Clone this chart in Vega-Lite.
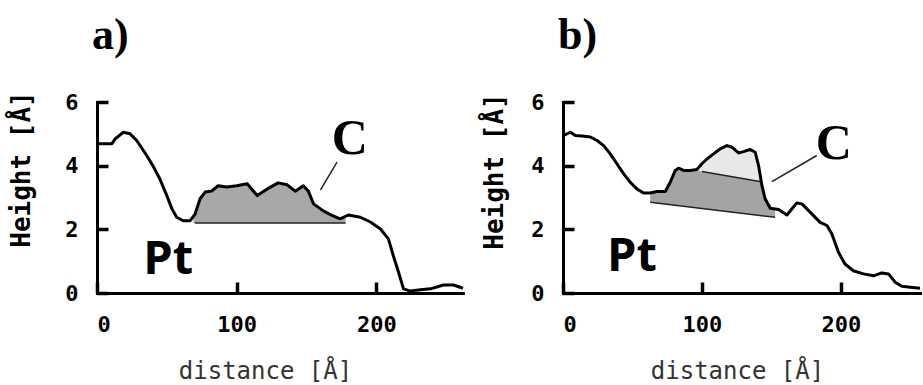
{
  "$schema": "https://vega.github.io/schema/vega-lite/v6.json",
  "background": "white",
  "padding": {"left": 8, "top": 13, "right": 0, "bottom": 0},
  "spacing": 16,
  "config": {
    "view": {"stroke": null},
    "axis": {
      "domainColor": "black", "domainWidth": 3, "domainCap": "square",
      "ticks": true, "tickColor": "black", "tickWidth": 3.5, "tickSize": -11,
      "grid": false,
      "labelFont": "DejaVu Sans Mono", "labelFontWeight": "bold", "labelFontSize": 22, "labelColor": "black"
    },
    "title": {"font": "Liberation Serif", "fontWeight": "bold", "fontSize": 44, "color": "black", "anchor": "start", "frame": "group", "baseline": "alphabetic", "offset": 33, "dx": -5}
  },
  "datasets": {
    "curveA": [
      {"x": 0, "y": 4.69}, {"x": 10.7, "y": 4.69}, {"x": 13, "y": 4.84}, {"x": 18.9, "y": 5.05}, {"x": 23.7, "y": 5.0},
      {"x": 28.4, "y": 4.79}, {"x": 35.6, "y": 4.32}, {"x": 40, "y": 4.0}, {"x": 45, "y": 3.58}, {"x": 50, "y": 3.06},
      {"x": 53.6, "y": 2.65}, {"x": 57, "y": 2.38}, {"x": 61.7, "y": 2.27}, {"x": 66.7, "y": 2.27}, {"x": 70.2, "y": 2.48},
      {"x": 73.8, "y": 2.96}, {"x": 77.4, "y": 3.17}, {"x": 82, "y": 3.2}, {"x": 86.7, "y": 3.37}, {"x": 93, "y": 3.33},
      {"x": 100, "y": 3.37}, {"x": 107.5, "y": 3.43}, {"x": 114.7, "y": 3.06}, {"x": 121.9, "y": 3.27}, {"x": 129.7, "y": 3.46},
      {"x": 136, "y": 3.4}, {"x": 141.9, "y": 3.2}, {"x": 147.7, "y": 3.37}, {"x": 151.3, "y": 3.2}, {"x": 155, "y": 2.8},
      {"x": 162, "y": 2.58}, {"x": 169, "y": 2.42}, {"x": 174, "y": 2.33}, {"x": 180, "y": 2.45}, {"x": 188.5, "y": 2.38},
      {"x": 195.7, "y": 2.23}, {"x": 202.9, "y": 2.01}, {"x": 208.6, "y": 1.7}, {"x": 212.2, "y": 1.16}, {"x": 215.8, "y": 0.66},
      {"x": 219.4, "y": 0.13}, {"x": 224.4, "y": 0.06}, {"x": 231.5, "y": 0.1}, {"x": 238.7, "y": 0.13}, {"x": 248, "y": 0.25},
      {"x": 255.2, "y": 0.25}, {"x": 262, "y": 0.15}
    ],
    "areaA": [
      {"x": 69, "top": 2.4, "bottom": 2.2}, {"x": 70.2, "top": 2.48, "bottom": 2.2}, {"x": 73.8, "top": 2.96, "bottom": 2.2},
      {"x": 77.4, "top": 3.17, "bottom": 2.2}, {"x": 82, "top": 3.2, "bottom": 2.2}, {"x": 86.7, "top": 3.37, "bottom": 2.2},
      {"x": 93, "top": 3.33, "bottom": 2.2}, {"x": 100, "top": 3.37, "bottom": 2.2}, {"x": 107.5, "top": 3.43, "bottom": 2.2},
      {"x": 114.7, "top": 3.06, "bottom": 2.2}, {"x": 121.9, "top": 3.27, "bottom": 2.2}, {"x": 129.7, "top": 3.46, "bottom": 2.2},
      {"x": 136, "top": 3.4, "bottom": 2.2}, {"x": 141.9, "top": 3.2, "bottom": 2.2}, {"x": 147.7, "top": 3.37, "bottom": 2.2},
      {"x": 151.3, "top": 3.2, "bottom": 2.2}, {"x": 155, "top": 2.8, "bottom": 2.2}, {"x": 162, "top": 2.58, "bottom": 2.2},
      {"x": 169, "top": 2.42, "bottom": 2.2}, {"x": 174, "top": 2.33, "bottom": 2.2}, {"x": 178, "top": 2.4, "bottom": 2.2}
    ],
    "rulesA": [
      {"x": 70, "y": 2.2, "x2": 178, "y2": 2.2},
      {"x": 171.8, "y": 4.11, "x2": 160, "y2": 3.24}
    ],
    "textA": [
      {"x": 51, "y": 0.6, "label": "Pt"},
      {"x": 181, "y": 4.37, "label": "C"}
    ],
    "curveB": [
      {"x": 0, "y": 4.9}, {"x": 0.5, "y": 4.95}, {"x": 5.3, "y": 5.05}, {"x": 8.9, "y": 4.95}, {"x": 13.7, "y": 4.93},
      {"x": 19.7, "y": 4.9}, {"x": 24.5, "y": 4.79}, {"x": 29.3, "y": 4.63}, {"x": 34, "y": 4.37}, {"x": 38.8, "y": 4.06},
      {"x": 43.7, "y": 3.74}, {"x": 48.4, "y": 3.48}, {"x": 53.2, "y": 3.27}, {"x": 58, "y": 3.14}, {"x": 62.8, "y": 3.14},
      {"x": 67.6, "y": 3.19}, {"x": 73.6, "y": 3.19}, {"x": 77.2, "y": 3.48}, {"x": 80.8, "y": 3.85}, {"x": 83.2, "y": 3.92},
      {"x": 86.8, "y": 3.85}, {"x": 91.6, "y": 3.85}, {"x": 96.4, "y": 3.88}, {"x": 100, "y": 4.06}, {"x": 103.6, "y": 4.21},
      {"x": 108.4, "y": 4.37}, {"x": 113.2, "y": 4.53}, {"x": 118, "y": 4.63}, {"x": 121.6, "y": 4.58}, {"x": 126.4, "y": 4.4},
      {"x": 130, "y": 4.44}, {"x": 134.8, "y": 4.51}, {"x": 138.4, "y": 4.42}, {"x": 140.8, "y": 4.0}, {"x": 143.2, "y": 3.38},
      {"x": 145.5, "y": 2.96}, {"x": 149.2, "y": 2.66}, {"x": 155.2, "y": 2.62}, {"x": 161.2, "y": 2.45}, {"x": 164.7, "y": 2.64},
      {"x": 168.3, "y": 2.83}, {"x": 172, "y": 2.8}, {"x": 177.9, "y": 2.54}, {"x": 185.1, "y": 2.22}, {"x": 190, "y": 2.12},
      {"x": 193.5, "y": 1.86}, {"x": 198.3, "y": 1.28}, {"x": 203, "y": 0.91}, {"x": 209, "y": 0.7}, {"x": 216.3, "y": 0.6},
      {"x": 223.5, "y": 0.54}, {"x": 229.5, "y": 0.63}, {"x": 234.3, "y": 0.6}, {"x": 239.1, "y": 0.34}, {"x": 244, "y": 0.21},
      {"x": 250, "y": 0.18}, {"x": 257, "y": 0.15}
    ],
    "areaBdark": [
      {"x": 62.8, "top": 3.14, "bottom": 2.85}, {"x": 67.6, "top": 3.19, "bottom": 2.825}, {"x": 73.6, "top": 3.19, "bottom": 2.79},
      {"x": 77.2, "top": 3.48, "bottom": 2.775}, {"x": 80.8, "top": 3.85, "bottom": 2.756}, {"x": 83.2, "top": 3.92, "bottom": 2.744},
      {"x": 86.8, "top": 3.85, "bottom": 2.725}, {"x": 91.6, "top": 3.85, "bottom": 2.7}, {"x": 96.4, "top": 3.84, "bottom": 2.675},
      {"x": 100, "top": 3.815, "bottom": 2.656}, {"x": 106, "top": 3.77, "bottom": 2.625}, {"x": 115, "top": 3.7, "bottom": 2.578},
      {"x": 125, "top": 3.63, "bottom": 2.526}, {"x": 135, "top": 3.55, "bottom": 2.474}, {"x": 142.7, "top": 3.495, "bottom": 2.434},
      {"x": 143.2, "top": 3.38, "bottom": 2.432}, {"x": 145.5, "top": 2.96, "bottom": 2.42}, {"x": 149.2, "top": 2.66, "bottom": 2.4},
      {"x": 152.7, "top": 2.63, "bottom": 2.38}
    ],
    "areaBlight": [
      {"x": 96.8, "top": 3.84, "bottom": 3.84}, {"x": 100, "top": 4.06, "bottom": 3.815}, {"x": 103.6, "top": 4.21, "bottom": 3.79},
      {"x": 108.4, "top": 4.37, "bottom": 3.752}, {"x": 113.2, "top": 4.53, "bottom": 3.716}, {"x": 118, "top": 4.63, "bottom": 3.68},
      {"x": 121.6, "top": 4.58, "bottom": 3.653}, {"x": 126.4, "top": 4.4, "bottom": 3.617}, {"x": 130, "top": 4.44, "bottom": 3.59},
      {"x": 134.8, "top": 4.51, "bottom": 3.554}, {"x": 138.4, "top": 4.42, "bottom": 3.527}, {"x": 140.8, "top": 4.0, "bottom": 3.509},
      {"x": 142.7, "top": 3.495, "bottom": 3.495}
    ],
    "rulesB": [
      {"x": 62.8, "y": 2.85, "x2": 152.7, "y2": 2.38},
      {"x": 100, "y": 3.815, "x2": 142.7, "y2": 3.495},
      {"x": 182.7, "y": 4.32, "x2": 150.4, "y2": 3.5}
    ],
    "textB": [
      {"x": 49.6, "y": 0.69, "label": "Pt"},
      {"x": 195, "y": 4.21, "label": "C"}
    ]
  },
  "hconcat": [
    {
      "title": {"text": "a)"},
      "width": 366,
      "height": 191,
      "encoding": {
        "x": {"field": "x", "type": "quantitative",
          "scale": {"domain": [0, 262], "nice": false, "zero": false},
          "axis": {"values": [0, 100, 200], "labelPadding": 32, "title": "distance [Å]",
            "titleFont": "DejaVu Sans Mono", "titleFontWeight": "normal", "titleFontSize": 24, "titleColor": "#333333",
            "titleX": 168, "titleY": 85, "titleBaseline": "alphabetic"}},
        "y": {"field": "y", "type": "quantitative",
          "scale": {"domain": [0, 6], "nice": false},
          "axis": {"values": [0, 2, 4, 6], "labelPadding": 30, "title": "Height [Å]",
            "titleFont": "DejaVu Sans Mono", "titleFontWeight": "bold", "titleFontSize": 26, "titleColor": "black",
            "titleX": -63, "titleY": 67}}
      },
      "layer": [
        {"data": {"name": "areaA"}, "mark": {"type": "area", "color": "#a8a8a8"},
         "encoding": {"y": {"field": "top", "type": "quantitative"}, "y2": {"field": "bottom"}}},
        {"data": {"name": "rulesA"}, "mark": {"type": "rule", "color": "#222222", "strokeWidth": 1.5},
         "encoding": {"x2": {"field": "x2"}, "y2": {"field": "y2"}}},
        {"data": {"name": "curveA"}, "mark": {"type": "line", "color": "black", "strokeWidth": 3, "strokeJoin": "round"}},
        {"data": {"name": "textA"}, "transform": [{"filter": "datum.label == 'Pt'"}],
         "mark": {"type": "text", "font": "Open Sans", "fontWeight": "bold", "fontSize": 47, "align": "center", "baseline": "alphabetic", "color": "black"},
         "encoding": {"text": {"field": "label"}}},
        {"data": {"name": "textA"}, "transform": [{"filter": "datum.label == 'C'"}],
         "mark": {"type": "text", "font": "Liberation Serif", "fontWeight": "bold", "fontSize": 50, "align": "center", "baseline": "alphabetic", "color": "black"},
         "encoding": {"text": {"field": "label"}}}
      ]
    },
    {
      "title": {"text": "b)"},
      "width": 357,
      "height": 191,
      "encoding": {
        "x": {"field": "x", "type": "quantitative",
          "scale": {"domain": [0, 257], "nice": false, "zero": false},
          "axis": {"values": [0, 100, 200], "labelPadding": 32, "title": "distance [Å]",
            "titleFont": "DejaVu Sans Mono", "titleFontWeight": "normal", "titleFontSize": 24, "titleColor": "#333333",
            "titleX": 174, "titleY": 85, "titleBaseline": "alphabetic"}},
        "y": {"field": "y", "type": "quantitative",
          "scale": {"domain": [0, 6], "nice": false},
          "axis": {"values": [0, 2, 4, 6], "labelPadding": 30, "title": "Height [Å]",
            "titleFont": "DejaVu Sans Mono", "titleFontWeight": "bold", "titleFontSize": 26, "titleColor": "black",
            "titleX": -56, "titleY": 69}}
      },
      "layer": [
        {"data": {"name": "areaBdark"}, "mark": {"type": "area", "color": "#a4a4a4"},
         "encoding": {"y": {"field": "top", "type": "quantitative"}, "y2": {"field": "bottom"}}},
        {"data": {"name": "areaBlight"}, "mark": {"type": "area", "color": "#e8e8e8"},
         "encoding": {"y": {"field": "top", "type": "quantitative"}, "y2": {"field": "bottom"}}},
        {"data": {"name": "rulesB"}, "mark": {"type": "rule", "color": "#222222", "strokeWidth": 1.5},
         "encoding": {"x2": {"field": "x2"}, "y2": {"field": "y2"}}},
        {"data": {"name": "curveB"}, "mark": {"type": "line", "color": "black", "strokeWidth": 3, "strokeJoin": "round"}},
        {"data": {"name": "textB"}, "transform": [{"filter": "datum.label == 'Pt'"}],
         "mark": {"type": "text", "font": "Open Sans", "fontWeight": "bold", "fontSize": 47, "align": "center", "baseline": "alphabetic", "color": "black"},
         "encoding": {"text": {"field": "label"}}},
        {"data": {"name": "textB"}, "transform": [{"filter": "datum.label == 'C'"}],
         "mark": {"type": "text", "font": "Liberation Serif", "fontWeight": "bold", "fontSize": 50, "align": "center", "baseline": "alphabetic", "color": "black"},
         "encoding": {"text": {"field": "label"}}}
      ]
    }
  ]
}
